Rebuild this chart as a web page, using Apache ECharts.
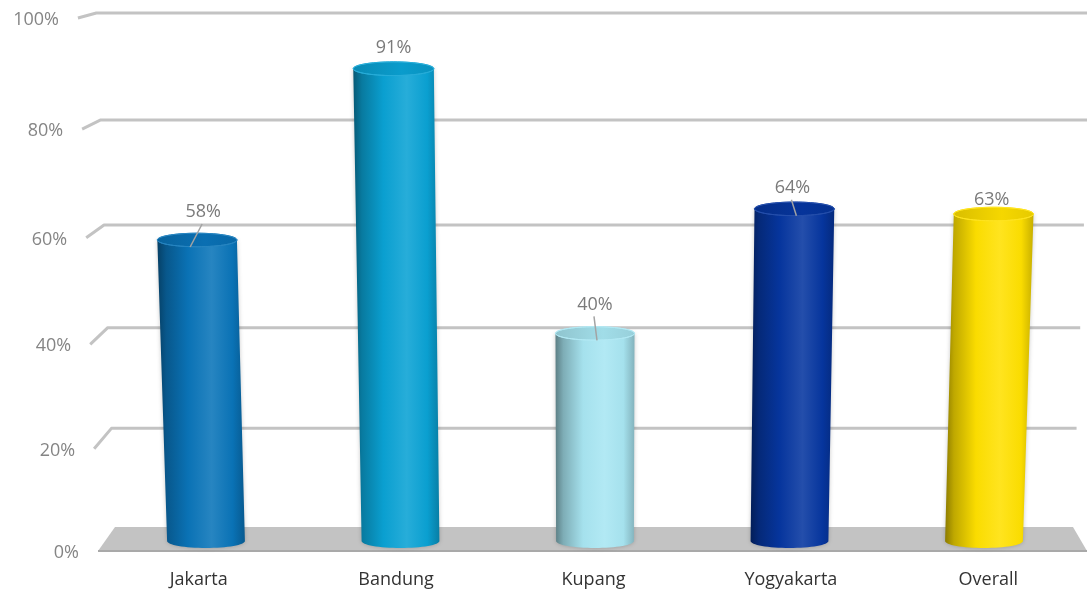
<!DOCTYPE html>
<html>
<head>
<meta charset="utf-8">
<script src="https://cdn.jsdelivr.net/npm/echarts@6/dist/echarts.min.js"></script>
<style>
  html, body { margin: 0; padding: 0; background: #ffffff; }
  #chart { width: 1087px; height: 594px; }
</style>
</head>
<body>
<div id="chart"></div>
<script>
// ---- data ----
const categories = ['Jakarta', 'Bandung', 'Kupang', 'Yogyakarta', 'Overall'];
const shares = [58, 91, 40, 64, 63];
const yTicks = [0, 20, 40, 60, 80, 100];

// ---- styling ----
const barColors = ['#0a74b9', '#0aa2d4', '#a8e6f2', '#0636a0', '#ffe000'];
// value labels sit a little above each cylinder top (dx, dy in px)
const labelNudge = [[6, -29], [0, -22], [0, -30], [-2, -22], [-2, -15]];
// leader line end offset (px) from the top centre; null = no leader
const leaderEndDx = [-7, null, 2, 2, null];

const FONT = '"Open Sans", "Noto Sans", sans-serif';
const VANISH_Y = 13750;   // vertical edges converge towards a point far below
const TILT = -0.05;       // slight vertical foreshortening of the walls

function mix(hex, target, t) {
  const a = parseInt(hex.slice(1), 16);
  const b = parseInt(target.slice(1), 16);
  const ch = (n, s) => (n >> s) & 255;
  const r = Math.round(ch(a, 16) + (ch(b, 16) - ch(a, 16)) * t);
  const g = Math.round(ch(a, 8) + (ch(b, 8) - ch(a, 8)) * t);
  const bl = Math.round(ch(a, 0) + (ch(b, 0) - ch(a, 0)) * t);
  return 'rgb(' + r + ',' + g + ',' + bl + ')';
}

function bodyGradient(c) {
  return new echarts.graphic.LinearGradient(0, 0, 1, 0, [
    { offset: 0, color: mix(c, '#000000', 0.45) },
    { offset: 0.1, color: mix(c, '#000000', 0.25) },
    { offset: 0.35, color: mix(c, '#000000', 0.02) },
    { offset: 0.62, color: mix(c, '#ffffff', 0.12) },
    { offset: 0.86, color: mix(c, '#000000', 0.02) },
    { offset: 1, color: mix(c, '#000000', 0.22) }
  ]);
}

function topGradient(c) {
  return new echarts.graphic.LinearGradient(0, 0, 1, 0, [
    { offset: 0, color: mix(c, '#000000', 0.15) },
    { offset: 0.6, color: mix(c, '#000000', 0.04) },
    { offset: 1, color: mix(c, '#000000', 0.1) }
  ]);
}

function ellipsePoints(cx, cy, rx, ry, a0, a1, n) {
  const pts = [];
  for (let s = 0; s <= n; s++) {
    const a = a0 + (a1 - a0) * s / n;
    pts.push([cx + rx * Math.cos(a), cy + ry * Math.sin(a)]);
  }
  return pts;
}

function renderCylinder(params, api) {
  const i = api.value(0);
  const v = api.value(1);
  const cs = params.coordSys;
  const midX = cs.x + cs.width / 2;
  const base = api.coord([i, 0]);
  const top = api.coord([i, v]);
  const band = api.size([1, 0])[0];
  const rb = band * 0.2;
  const k = (VANISH_Y - top[1]) / (VANISH_Y - base[1]);
  const xt = midX + (base[0] - midX) * k;
  const rt = rb * k;
  const ryb = rb * 0.18;
  const ryt = rt * 0.17;
  const c = barColors[i];

  const body = [[xt - rt, top[1]]]
    .concat(ellipsePoints(base[0], base[1], rb, ryb, Math.PI, 0, 32))
    .concat([[xt + rt, top[1]]]);

  const children = [
    {
      type: 'polygon',
      shape: { points: body },
      style: { fill: bodyGradient(c), shadowBlur: 4, shadowColor: 'rgba(0,0,0,0.22)' }
    },
    {
      type: 'polygon',
      shape: { points: ellipsePoints(xt, top[1], rt, ryt, 0, Math.PI * 2, 60) },
      style: { fill: topGradient(c), stroke: mix(c, '#ffffff', 0.12), lineWidth: 1 }
    }
  ];

  const lx = xt + labelNudge[i][0];
  const ly = top[1] + labelNudge[i][1];
  if (leaderEndDx[i] !== null) {
    children.push({
      type: 'line',
      shape: { x1: lx - 1, y1: ly + 13, x2: xt + leaderEndDx[i], y2: top[1] + 7 },
      style: { stroke: '#a3a3a3', lineWidth: 1.5 }
    });
  }
  children.push({
    type: 'text',
    style: {
      text: v + '%', x: lx, y: ly + 1,
      align: 'center', verticalAlign: 'middle',
      fontSize: 18, fontFamily: FONT, fill: '#7a7a7a'
    }
  });
  return { type: 'group', children: children };
}

const hiddenValueY = (gi) => ({
  gridIndex: gi, type: 'value', min: 0, max: 100, interval: 20, show: false
});

const option = {
  animation: false,
  backgroundColor: '#ffffff',
  grid: [
    { left: 115, right: 14, top: 13, bottom: 67 },        // back wall
    { left: 98, right: -3, top: 18, bottom: 43 },         // front edge of walls / floor
    { left: 108.75, width: 972.5, top: 22, bottom: 53 },  // cylinder bases
    { left: 100, width: 988, top: 18, bottom: 43 }        // category labels
  ],
  xAxis: [
    { gridIndex: 0, type: 'value', min: 0, max: 1, show: false },
    { gridIndex: 1, type: 'value', min: 0, max: 1, show: false },
    { gridIndex: 2, type: 'category', data: categories, show: false },
    {
      gridIndex: 3, type: 'category', data: categories,
      axisLine: { show: false }, axisTick: { show: false }, splitLine: { show: false },
      axisLabel: { margin: 20, fontSize: 18, fontFamily: FONT, color: '#333333' }
    }
  ],
  yAxis: [hiddenValueY(0), hiddenValueY(1), hiddenValueY(2), hiddenValueY(3)],
  series: [
    {
      type: 'custom',
      xAxisIndex: 2,
      yAxisIndex: 2,
      renderItem: renderCylinder,
      data: shares.map((s, i) => [i, s]),
      z: 5
    }
  ]
};

const chart = echarts.init(document.getElementById('chart'), null, { renderer: 'canvas' });
chart.setOption(option);

// ---- walls and floor, laid out from the axis scales ----
function warp(yl, y0, y1) {
  const t = (y0 - yl) / (y0 - y1);
  const f = t * (1 + TILT) / (1 + TILT * t);
  return y0 - f * (y0 - y1);
}
function persp(x, y, yRef, midX) {
  return midX + (x - midX) * (VANISH_Y - y) / (VANISH_Y - yRef);
}

const midX = (chart.convertToPixel({ xAxisIndex: 2 }, 0) + chart.convertToPixel({ xAxisIndex: 2 }, categories.length - 1)) / 2;
const back0 = chart.convertToPixel({ gridIndex: 0 }, [0, 0]);
const back100 = chart.convertToPixel({ gridIndex: 0 }, [0, 100]);
const front0 = chart.convertToPixel({ gridIndex: 1 }, [0, 0]);
const front100 = chart.convertToPixel({ gridIndex: 1 }, [0, 100]);
const frontR0 = chart.convertToPixel({ gridIndex: 1 }, [1, 0]);

function backPoint(v, side) {
  const p = chart.convertToPixel({ gridIndex: 0 }, [side, v]);
  const y = warp(p[1], back0[1], back100[1]);
  return [persp(p[0], y, back0[1], midX), y];
}
function frontPoint(v) {
  const p = chart.convertToPixel({ gridIndex: 1 }, [0, v]);
  const y = warp(p[1], front0[1], front100[1]);
  return [persp(p[0], y, front0[1], midX), y];
}

const wall = [];
// floor
wall.push({
  type: 'polygon',
  shape: { points: [front0, backPoint(0, 0), backPoint(0, 1), frontR0] },
  style: { fill: '#c3c3c3' },
  z: 0
});
wall.push({
  type: 'line',
  shape: { x1: front0[0], y1: front0[1], x2: frontR0[0], y2: frontR0[1] },
  style: { stroke: '#a9a9a9', lineWidth: 2 },
  z: 0
});
yTicks.forEach(v => {
  const f = frontPoint(v);
  if (v > 0) {
    wall.push({
      type: 'polyline',
      shape: { points: [f, backPoint(v, 0), backPoint(v, 1)] },
      style: { stroke: '#c3c3c3', lineWidth: 3, fill: null, lineJoin: 'round' },
      z: 0
    });
  }
  wall.push({
    type: 'text',
    style: {
      text: v + '%', x: f[0] - 19, y: f[1] + 2,
      align: 'right', verticalAlign: 'middle',
      textAlign: 'right', textVerticalAlign: 'middle',
      font: '18px ' + FONT, fill: '#858585'
    },
    z: 0
  });
});

chart.setOption({ graphic: { elements: wall } });
</script>
</body>
</html>
